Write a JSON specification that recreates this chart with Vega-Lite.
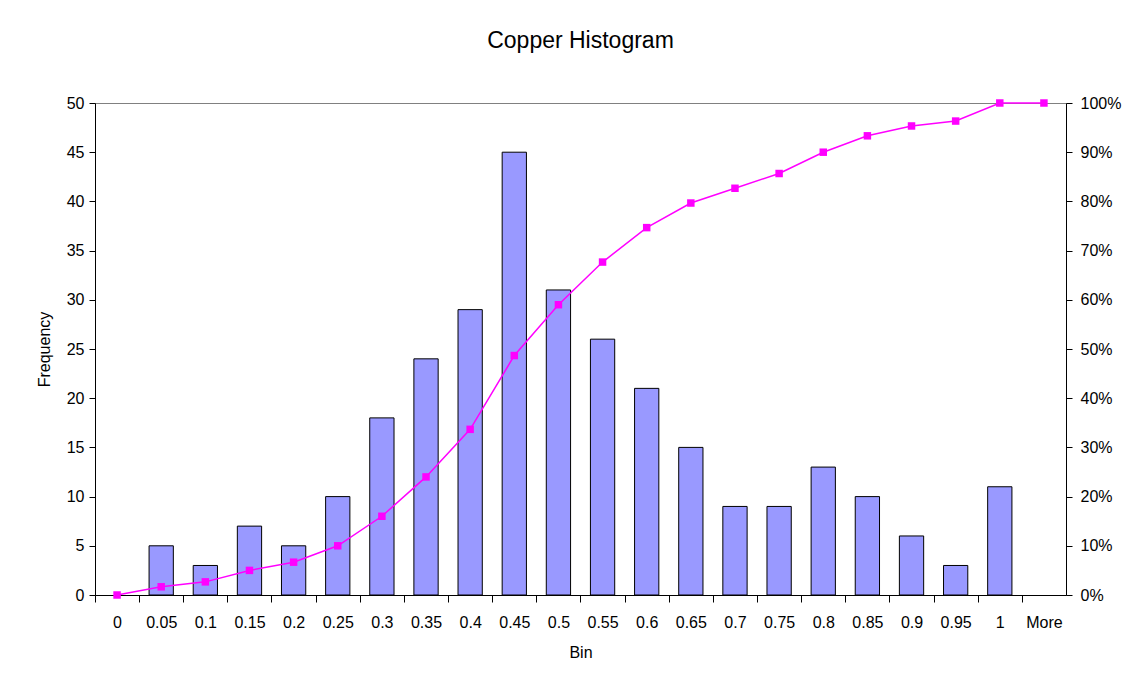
{
  "$schema": "https://vega.github.io/schema/vega-lite/v6.json",
  "width": 971,
  "height": 492,
  "autosize": "none",
  "padding": {"left": 95, "top": 103, "right": 69, "bottom": 87},
  "background": "white",
  "title": {
    "text": "Copper Histogram",
    "font": "Liberation Sans",
    "fontSize": 23,
    "fontWeight": "normal",
    "color": "black",
    "anchor": "middle",
    "offset": 42
  },
  "config": {
    "view": {"stroke": "#808080", "strokeWidth": 1},
    "axis": {
      "labelFont": "Liberation Sans",
      "labelFontSize": 16,
      "labelColor": "black",
      "titleFont": "Liberation Sans",
      "titleFontSize": 16,
      "titleFontWeight": "normal",
      "titleColor": "black",
      "domainColor": "black",
      "tickColor": "black",
      "grid": false
    }
  },
  "data": {
    "values": [
      {"Bin": "0", "Frequency": 0, "Cumulative": 0},
      {"Bin": "0.05", "Frequency": 5, "Cumulative": 0.0167},
      {"Bin": "0.1", "Frequency": 3, "Cumulative": 0.0267},
      {"Bin": "0.15", "Frequency": 7, "Cumulative": 0.05},
      {"Bin": "0.2", "Frequency": 5, "Cumulative": 0.0667},
      {"Bin": "0.25", "Frequency": 10, "Cumulative": 0.1},
      {"Bin": "0.3", "Frequency": 18, "Cumulative": 0.16},
      {"Bin": "0.35", "Frequency": 24, "Cumulative": 0.24},
      {"Bin": "0.4", "Frequency": 29, "Cumulative": 0.3367},
      {"Bin": "0.45", "Frequency": 45, "Cumulative": 0.4867},
      {"Bin": "0.5", "Frequency": 31, "Cumulative": 0.59},
      {"Bin": "0.55", "Frequency": 26, "Cumulative": 0.6767},
      {"Bin": "0.6", "Frequency": 21, "Cumulative": 0.7467},
      {"Bin": "0.65", "Frequency": 15, "Cumulative": 0.7967},
      {"Bin": "0.7", "Frequency": 9, "Cumulative": 0.8267},
      {"Bin": "0.75", "Frequency": 9, "Cumulative": 0.8567},
      {"Bin": "0.8", "Frequency": 13, "Cumulative": 0.9},
      {"Bin": "0.85", "Frequency": 10, "Cumulative": 0.9333},
      {"Bin": "0.9", "Frequency": 6, "Cumulative": 0.9533},
      {"Bin": "0.95", "Frequency": 3, "Cumulative": 0.9633},
      {"Bin": "1", "Frequency": 11, "Cumulative": 1},
      {"Bin": "More", "Frequency": 0, "Cumulative": 1}
    ]
  },
  "encoding": {
    "x": {
      "field": "Bin",
      "type": "nominal",
      "sort": null,
      "scale": {
        "domain": ["0", "0.05", "0.1", "0.15", "0.2", "0.25", "0.3", "0.35", "0.4", "0.45", "0.5", "0.55", "0.6", "0.65", "0.7", "0.75", "0.8", "0.85", "0.9", "0.95", "1", "More"],
        "paddingInner": 0.45,
        "paddingOuter": 0.225
      },
      "axis": {
        "title": "Bin",
        "labelAngle": 0,
        "bandPosition": 0,
        "tickOffset": -10,
        "labelOffset": 10,
        "tickSize": 7,
        "labelPadding": 12,
        "titlePadding": 14
      }
    }
  },
  "layer": [
    {
      "transform": [{"filter": "datum.Frequency > 0"}],
      "mark": {"type": "bar", "fill": "#9999FF", "stroke": "black", "strokeWidth": 1},
      "encoding": {
        "y": {
          "field": "Frequency",
          "type": "quantitative",
          "scale": {"domain": [0, 50]},
          "axis": {
            "title": "Frequency",
            "values": [0, 5, 10, 15, 20, 25, 30, 35, 40, 45, 50],
            "tickSize": 6,
            "labelPadding": 5,
            "titlePadding": 14
          }
        }
      }
    },
    {
      "mark": {
        "type": "line",
        "color": "#FF00FF",
        "strokeWidth": 1.5,
        "point": {"shape": "square", "size": 56, "filled": true, "color": "#FF00FF", "opacity": 1}
      },
      "encoding": {
        "y": {
          "field": "Cumulative",
          "type": "quantitative",
          "scale": {"domain": [0, 1]},
          "axis": {
            "orient": "right",
            "title": null,
            "format": ".0%",
            "values": [0, 0.1, 0.2, 0.3, 0.4, 0.5, 0.6, 0.7, 0.8, 0.9, 1],
            "tickSize": 6,
            "labelPadding": 8
          }
        }
      }
    }
  ],
  "resolve": {"scale": {"y": "independent"}}
}
